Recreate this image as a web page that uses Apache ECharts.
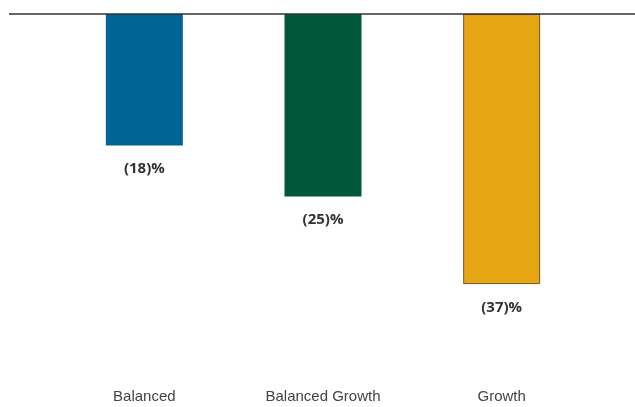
<!DOCTYPE html>
<html>
<head>
<meta charset="utf-8">
<script src="https://cdn.jsdelivr.net/npm/echarts@6/dist/echarts.min.js"></script>
<style>
  html, body { margin: 0; padding: 0; background: #ffffff; }
  #chart { width: 635px; height: 407px; }
</style>
</head>
<body>
<div id="chart"></div>
<script>
// Portfolio drawdowns by strategy
const categories = ['Balanced', 'Balanced Growth', 'Growth'];
const drawdowns = [-18, -25, -37];
const barColors = ['#006594', '#02573A', '#E6A512'];
const barBorders = ['#006594', '#02573A', '#6B5633'];

const chart = echarts.init(document.getElementById('chart'));

chart.setOption({
  animation: false,
  backgroundColor: '#ffffff',
  grid: { left: 55, width: 536, top: 14, height: 365, containLabel: false },
  xAxis: {
    type: 'category',
    data: categories,
    position: 'bottom',
    axisLine: { show: false },
    axisTick: { show: false },
    axisLabel: {
      margin: 10,
      fontFamily: 'Liberation Sans, Arial, sans-serif',
      fontSize: 15,
      color: '#444444'
    }
  },
  yAxis: {
    type: 'value',
    min: -50,
    max: 0,
    show: false,
    splitLine: { show: false }
  },
  graphic: [{
    type: 'line',
    shape: { x1: 9, y1: 14, x2: 635, y2: 14 },
    style: { stroke: '#333333', lineWidth: 1.3 },
    z: 10
  }],
  series: [{
    type: 'bar',
    barWidth: 77,
    data: drawdowns.map((v, i) => ({
      value: v,
      itemStyle: { color: barColors[i], borderColor: barBorders[i], borderWidth: i === 2 ? 1 : 0 }
    })),
    label: {
      show: true,
      position: 'bottom',
      distance: 16,
      fontFamily: 'Open Sans, sans-serif',
      fontWeight: 'bold',
      fontSize: 15,
      color: '#333333',
      formatter: p => '(' + Math.abs(p.value) + ')%'
    }
  }]
});
</script>
</body>
</html>
